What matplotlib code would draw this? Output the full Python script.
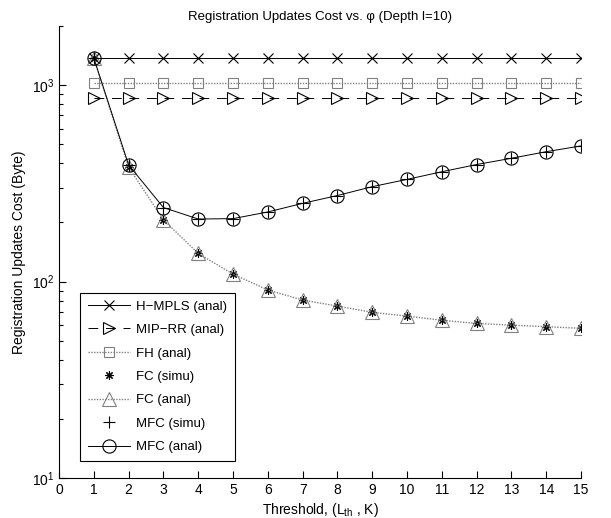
import numpy as np
import matplotlib
matplotlib.use("Agg")
import matplotlib.pyplot as plt

plt.rcParams['font.family'] = ['Liberation Sans', 'DejaVu Sans']
plt.rcParams['mathtext.fontset'] = 'custom'
plt.rcParams['mathtext.rm'] = 'Liberation Sans'
plt.rcParams['mathtext.it'] = 'Liberation Sans:italic'
plt.rcParams['mathtext.bf'] = 'Liberation Sans:bold'

thresholds = list(range(1, 16))
hmpls_anal = [1370] * 15
miprr_anal = [860] * 15
fh_anal = [1027] * 15
fc_anal = [1370, 382, 206, 139, 109, 90.6, 80.5, 75, 69.7, 66.7, 63.5, 61.2, 60, 58.9, 57.8]
fc_simu = [1370, 382, 206, 139, 109, 90.6, 80.5, 75, 69.7, 66.7, 63.5, 61.2, 60, 58.9, 57.8]
mfc_anal = [1370, 392, 238, 208, 209, 226, 250, 274, 304, 331, 362, 394, 424, 458, 490]
mfc_simu = [1370, 392, 238, 208, 209, 226, 250, 274, 304, 331, 362, 394, 424, 458, 490]

fig = plt.figure(figsize=(6.11, 5.18), dpi=100)
ax = fig.add_axes([0.0966, 0.0772, 0.8544, 0.8728])

gray = '#808080'
lw = 0.7
ax.plot(thresholds, hmpls_anal, color='black', ls='-', lw=lw, marker='x', ms=7, mew=0.8,
        label='H\u2212MPLS (anal)')
ax.plot(thresholds, miprr_anal, color='black', ls=(0, (10, 8)), lw=lw, marker='>', ms=9,
        mfc='none', mew=0.8, label='MIP\u2212RR (anal)')
ax.plot(thresholds, fh_anal, color=gray, ls=(0, (1, 1)), lw=1.0, marker='s', ms=7,
        mfc='none', mew=0.8, label='FH (anal)')
ax.plot(thresholds, fc_simu, color='black', ls='none', marker=(8, 2, 0), ms=6, mew=0.8,
        label='FC (simu)')
ax.plot(thresholds, fc_anal, color=gray, ls=(0, (1, 1)), lw=1.0, marker='^', ms=9.5,
        mfc='none', mew=0.8, label='FC (anal)')
ax.plot(thresholds, mfc_simu, color='black', ls='none', marker='+', ms=8, mew=0.8,
        label='MFC (simu)')
ax.plot(thresholds, mfc_anal, color='black', ls='-', lw=lw, marker='o', ms=9.5,
        mfc='none', mew=0.8, label='MFC (anal)')

ax.set_yscale('log')
ax.set_xlim(0, 15)
ax.set_ylim(10, 2000)
ax.set_xticks(range(0, 16))
ax.spines['top'].set_visible(False)
ax.spines['right'].set_visible(False)
for s in ('left', 'bottom'):
    ax.spines[s].set_linewidth(0.8)
ax.tick_params(axis='both', which='both', direction='in', labelsize=10, width=0.8)
ax.tick_params(axis='both', which='major', length=5)
ax.tick_params(axis='y', which='minor', length=3)

ax.set_title('Registration Updates Cost vs. \u03c6 (Depth l=10)', fontsize=9.5, pad=4)
ax.set_xlabel('Threshold, (L$_{\\mathrm{th}}$ , K)', fontsize=10, labelpad=3)
ax.set_ylabel('Registration Updates Cost (Byte)', fontsize=10, labelpad=4)

leg = ax.legend(loc='lower left', bbox_to_anchor=(0.04, 0.037), borderaxespad=0,
                fontsize=9.5, frameon=True, fancybox=False, edgecolor='black', framealpha=1,
                handlelength=3.2, labelspacing=0.85, borderpad=0.6, handletextpad=0.45)
leg.get_frame().set_linewidth(0.8)

fig.savefig('out.png', dpi=100)
